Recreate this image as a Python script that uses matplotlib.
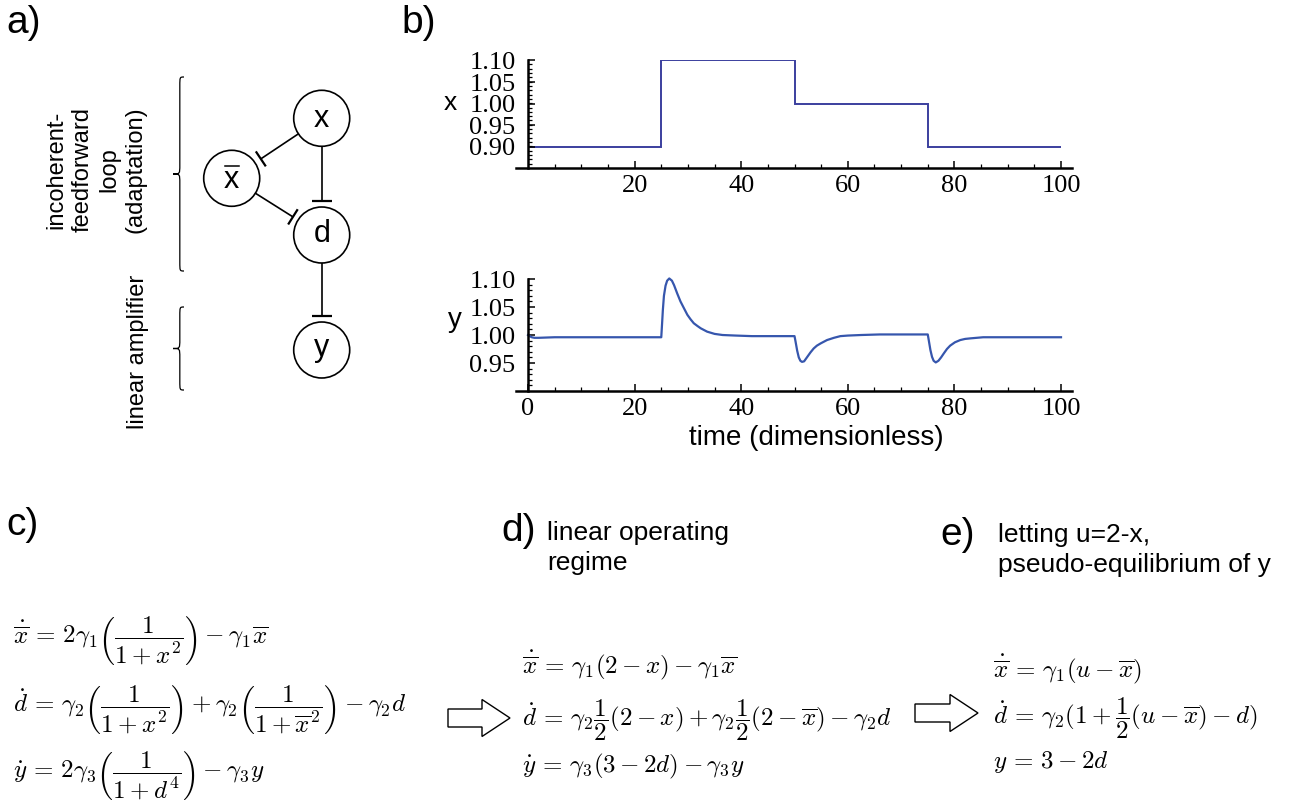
import numpy as np
import matplotlib
matplotlib.use("Agg")
import matplotlib.pyplot as plt
from matplotlib.patches import Circle, Polygon, PathPatch
from matplotlib.path import Path
from matplotlib.ticker import FixedLocator, FormatStrFormatter

plt.rcParams['mathtext.fontset'] = 'cm'
SANS = 'Liberation Sans'
SERIF = 'Liberation Serif'

# ---- data -------------------------------------------------------------
# input x: piecewise-constant levels between switching times
step_times = [0, 25, 50, 75, 100]
x_levels = [0.90, 1.10, 1.00, 0.90]

# output y response (time, value)
y_time = [0.0, 0.3, 0.7, 1.2, 2.0, 5.0, 25.0,
          25.15, 25.3, 25.5, 25.8, 26.1, 26.5, 27.0, 27.4, 28.0, 28.6, 29.3,
          29.9, 30.5, 31.1, 31.8, 32.4, 33.6, 35.0, 36.5, 39.0, 42.0, 50.0,
          50.2, 50.5, 50.8, 51.1, 51.4, 51.8, 52.4, 53.0, 53.6, 54.2, 54.9,
          55.5, 56.1, 57.4, 58.6, 60.0, 62.5, 66.0, 75.0,
          75.2, 75.5, 75.8, 76.1, 76.5, 77.0, 77.5, 78.0, 78.6, 79.2, 80.1,
          81.1, 82.0, 83.0, 85.4, 90.0, 100.0]
y_value = [1.000, 0.998, 0.996, 0.995, 0.995, 0.996, 0.996,
           1.020, 1.045, 1.070, 1.088, 1.097, 1.101, 1.097, 1.089, 1.074, 1.060, 1.047,
           1.036, 1.028, 1.021, 1.016, 1.012, 1.006, 1.002, 1.000, 0.999, 0.998, 0.998,
           0.988, 0.972, 0.960, 0.954, 0.952, 0.953, 0.961, 0.969, 0.976, 0.981, 0.985,
           0.988, 0.991, 0.995, 0.998, 0.999, 1.000, 1.001, 1.001,
           0.990, 0.973, 0.961, 0.954, 0.951, 0.954, 0.960, 0.967, 0.975, 0.981, 0.987,
           0.991, 0.993, 0.994, 0.996, 0.996, 0.996]

top_xticks = [20, 40, 60, 80, 100]
top_yticks = [0.90, 0.95, 1.00, 1.05, 1.10]
bot_xticks = [0, 20, 40, 60, 80, 100]
bot_yticks = [0.95, 1.00, 1.05, 1.10]

# ---- figure -----------------------------------------------------------
W, H = 1304, 802
fig = plt.figure(figsize=(W / 100, H / 100), dpi=100)
fig.patch.set_facecolor('white')

# full-figure canvas in pixel units for the diagram and the equations
cv = fig.add_axes([0, 0, 1, 1])
cv.set_xlim(0, W)
cv.set_ylim(H, 0)
cv.axis('off')


def px_axes(left, right, top, bottom):
    return fig.add_axes([left / W, 1 - bottom / H, (right - left) / W, (bottom - top) / H])


def style_axes(ax, xmaj, ymaj, ymin_lo, ymin_hi):
    for s in ('top', 'right'):
        ax.spines[s].set_visible(False)
    ax.spines['left'].set_position(('data', 0))
    ax.spines['left'].set_bounds(ymin_lo, ymin_hi)
    for s in ('left', 'bottom'):
        ax.spines[s].set_linewidth(1.8)
    ax.xaxis.set_major_locator(FixedLocator(xmaj))
    ax.xaxis.set_minor_locator(FixedLocator(np.arange(5, 101, 5)))
    ax.yaxis.set_major_locator(FixedLocator(ymaj))
    ax.yaxis.set_minor_locator(FixedLocator(np.round(np.arange(ymin_lo + 0.01, ymin_hi + 0.001, 0.01), 3)))
    ax.yaxis.set_major_formatter(FormatStrFormatter('%.2f'))
    ax.tick_params(which='major', direction='in', length=5, width=1.1, color='black')
    ax.tick_params(which='minor', direction='in', length=3, width=0.9, color='black')
    ax.tick_params(axis='y', which='major', pad=9)
    ax.tick_params(axis='x', which='major', pad=5)
    for lab in ax.get_xticklabels() + ax.get_yticklabels():
        lab.set_fontfamily(SERIF)
        lab.set_fontsize(19)
    ax.patch.set_alpha(0)


# top panel: x(t)
ax1 = px_axes(516.3, 1072.2, 59.6, 168)
ax1.stairs(x_levels, step_times, baseline=None, color='#3b3f9e', linewidth=1.4)
ax1.set_xlim(-2.2, 102.1)
ax1.set_ylim(0.851, 1.102)
style_axes(ax1, top_xticks, top_yticks, 0.851, 1.10)

# bottom panel: y(t)
ax2 = px_axes(516.3, 1072.2, 277.9, 391)
ax2.plot(y_time, y_value, color='#3656ad', linewidth=1.6, clip_on=False)
ax2.set_xlim(-2.2, 102.1)
ax2.set_ylim(0.90, 1.102)
style_axes(ax2, bot_xticks, bot_yticks, 0.90, 1.10)

cv.text(450, 103, 'x', family=SANS, fontsize=19, ha='center', va='center')
cv.text(455, 320, 'y', family=SANS, fontsize=20, ha='center', va='center')
cv.text(816, 438, 'time (dimensionless)', family=SANS, fontsize=20, ha='center', va='center')

# ---- panel labels -----------------------------------------------------
for lbl, (lx, ly) in {'a)': (6, 23), 'b)': (401, 23), 'c)': (6, 525),
                      'd)': (501, 531), 'e)': (940, 535)}.items():
    cv.text(lx, ly, lbl, family=SANS, fontsize=28, ha='left', va='center')

cv.text(547, 533, 'linear operating', family=SANS, fontsize=19, ha='left', va='center')
cv.text(547, 563, 'regime', family=SANS, fontsize=19, ha='left', va='center')
cv.text(998, 535, 'letting u=2-x,', family=SANS, fontsize=19, ha='left', va='center')
cv.text(998, 565, 'pseudo-equilibrium of y', family=SANS, fontsize=19, ha='left', va='center')

# ---- panel a: network diagram ----------------------------------------
R = 28
nodes = {'x': (321.7, 118.3), 'xb': (231.7, 178.3), 'd': (321.7, 235.0), 'y': (321.7, 350.0)}
for key, (cx, cy) in nodes.items():
    cv.add_patch(Circle((cx, cy), R, facecolor='white', edgecolor='black', linewidth=1.2))
cv.text(nodes['x'][0], nodes['x'][1] + 1, 'x', family=SANS, fontsize=22, ha='center', va='center')
cv.text(nodes['xb'][0], nodes['xb'][1] + 2, 'x', family=SANS, fontsize=22, ha='center', va='center')
cv.plot([225, 238.5], [165.5, 165.5], color='black', lw=1.1)
cv.text(nodes['d'][0], nodes['d'][1] - 1, 'd', family=SANS, fontsize=22, ha='center', va='center')
cv.text(nodes['y'][0], nodes['y'][1] - 2, 'y', family=SANS, fontsize=22, ha='center', va='center')


def inhibit(a, b, gap=7, bar=10):
    (x0, y0), (x1, y1) = nodes[a], nodes[b]
    v = np.array([x1 - x0, y1 - y0])
    u = v / np.hypot(*v)
    n = np.array([-u[1], u[0]])
    p0 = np.array([x0, y0]) + u * R
    p1 = np.array([x1, y1]) - u * (R + gap)
    cv.plot([p0[0], p1[0]], [p0[1], p1[1]], color='black', lw=1.2, solid_capstyle='butt')
    q0, q1 = p1 + n * bar, p1 - n * bar
    cv.plot([q0[0], q1[0]], [q0[1], q1[1]], color='black', lw=1.6, solid_capstyle='butt')


inhibit('x', 'xb', gap=7, bar=9)
inhibit('x', 'd', gap=6, bar=10)
inhibit('xb', 'd', gap=6, bar=9)
inhibit('d', 'y', gap=6, bar=10)


def brace(xtip, y0, y1, w=11, c=9):
    xs = xtip + w * 0.62
    xe = xtip + w
    ym = (y0 + y1) / 2
    verts = [(xe, y0), (xs, y0), (xs, y0), (xs, y0 + c),
             (xs, ym - c),
             (xs, ym), (xs, ym), (xtip, ym),
             (xs, ym), (xs, ym), (xs, ym + c),
             (xs, y1 - c),
             (xs, y1), (xs, y1), (xe, y1)]
    codes = [Path.MOVETO, Path.CURVE4, Path.CURVE4, Path.CURVE4,
             Path.LINETO,
             Path.CURVE4, Path.CURVE4, Path.CURVE4,
             Path.CURVE4, Path.CURVE4, Path.CURVE4,
             Path.LINETO,
             Path.CURVE4, Path.CURVE4, Path.CURVE4]
    cv.add_patch(PathPatch(Path(verts, codes), facecolor='none', edgecolor='black', lw=0.9))


brace(173, 77, 271)
brace(173, 307, 390)

cv.text(96, 170, 'incoherent-\nfeedforward\nloop\n(adaptation)', family=SANS, fontsize=17,
        rotation=90, ha='center', va='center', multialignment='center', linespacing=1.27)
cv.text(138, 352, 'linear amplifier', family=SANS, fontsize=17,
        rotation=90, ha='center', va='center')

# ---- equations --------------------------------------------------------
EQ = 18
eq_c = [r'$\dot{\overline{x}}\,=\,2\gamma_1\left(\dfrac{1}{1+x^2}\right) - \gamma_1\overline{x}$',
        r'$\dot{d}\,=\,\gamma_2\left(\dfrac{1}{1+x^2}\right) + \gamma_2\left(\dfrac{1}{1+\overline{x}^2}\right) - \gamma_2 d$',
        r'$\dot{y}\,=\,2\gamma_3\left(\dfrac{1}{1+d^4}\right) - \gamma_3 y$']
eq_d = [r'$\dot{\overline{x}}\,=\,\gamma_1(2-x) - \gamma_1\overline{x}$',
        r'$\dot{d}\,=\,\gamma_2\dfrac{1}{2}(2-x) + \gamma_2\dfrac{1}{2}(2-\overline{x}) - \gamma_2 d$',
        r'$\dot{y}\,=\,\gamma_3(3-2d) - \gamma_3 y$']
eq_e = [r'$\dot{\overline{x}}\,=\,\gamma_1(u-\overline{x})$',
        r'$\dot{d}\,=\,\gamma_2(1+\dfrac{1}{2}(u-\overline{x}) - d)$',
        r'$y\,=\,3-2d$']

for s, yb in zip(eq_c, [643, 712, 778]):
    cv.text(13, yb, s, fontsize=EQ, ha='left', va='baseline')
for s, yb in zip(eq_d, [673, 725, 772]):
    cv.text(522, yb, s, fontsize=EQ, ha='left', va='baseline')
for s, yb in zip(eq_e, [677, 723, 768]):
    cv.text(993, yb, s, fontsize=EQ, ha='left', va='baseline')


def block_arrow(x0, xh, x1, yc, sh=9, hh=18.5):
    pts = [(x0, yc - sh), (xh, yc - sh), (xh, yc - hh), (x1, yc),
           (xh, yc + hh), (xh, yc + sh), (x0, yc + sh)]
    cv.add_patch(Polygon(pts, closed=True, facecolor='white', edgecolor='black', lw=1.0))


block_arrow(448, 482, 510, 718)
block_arrow(915, 950, 978, 713)

fig.savefig('out.png', dpi=100, facecolor='white')
